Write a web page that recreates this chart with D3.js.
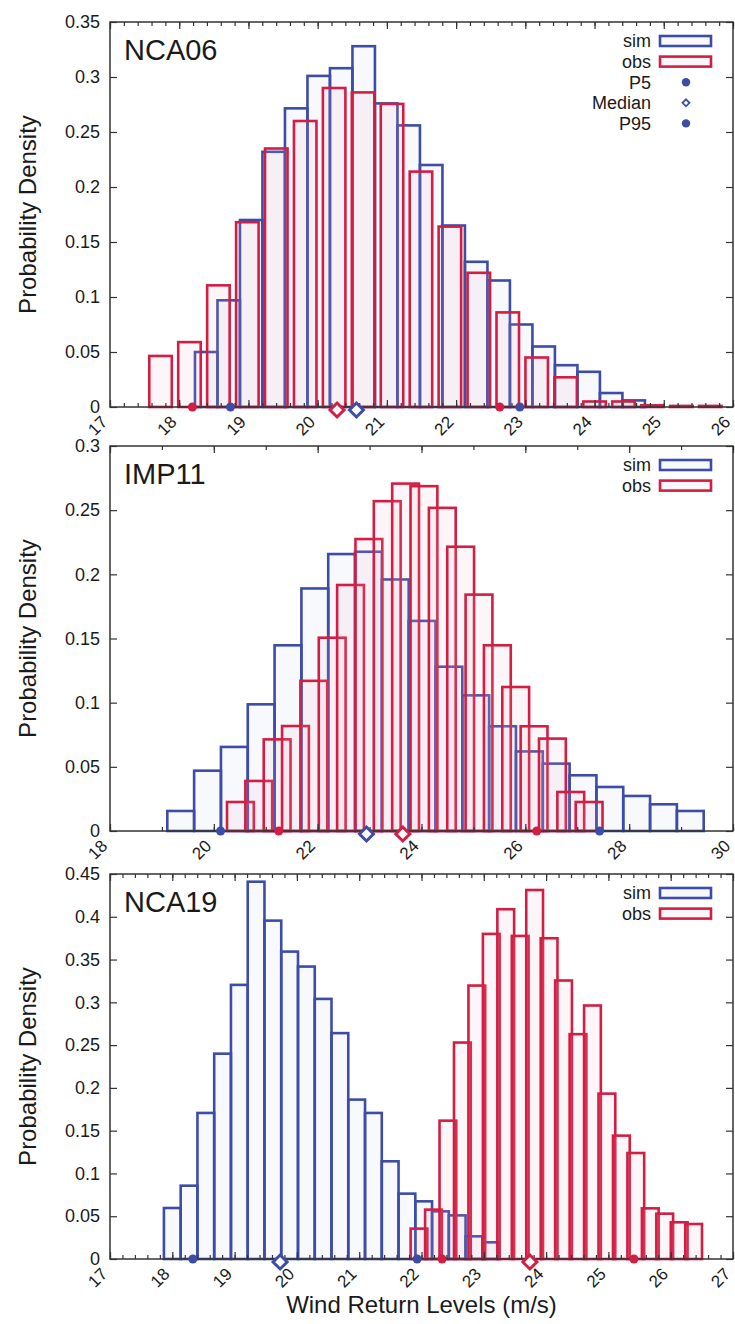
<!DOCTYPE html>
<html>
<head>
<meta charset="utf-8">
<script src="https://cdn.jsdelivr.net/npm/d3@7"></script>
<style>
body { margin: 0; background: #fff; }
svg text { font-family: "Liberation Sans", Arial, sans-serif; fill: #1a1a1a; }
</style>
</head>
<body>
<svg id="chart"></svg>
<script>
// ---- NCA06 ----
var nca06Sim = [0.05, 0.097, 0.17, 0.232, 0.2715, 0.301, 0.308, 0.328, 0.276, 0.256,
                0.22, 0.165, 0.132, 0.115, 0.075, 0.055, 0.038, 0.032, 0.0127, 0.006];
var nca06Obs = [0.0464, 0.059, 0.1106, 0.168, 0.235, 0.26, 0.29, 0.286, 0.2755, 0.214,
                0.164, 0.122, 0.086, 0.045, 0.027, 0.005, 0.005, 0.0015, 0.001, 0.001];
var nca06Bins = { simFirst: 18.39, simStep: 0.325, obsFirst: 17.73, obsStep: 0.418, box: 0.325 };
var nca06SimStats = [18.74, 20.56, 22.92];   // P5, median, P95
var nca06ObsStats = [18.19, 20.28, 22.63];
var nca06XTicks = [17, 18, 19, 20, 21, 22, 23, 24, 25, 26];
var nca06YTicks = [0, 0.05, 0.1, 0.15, 0.2, 0.25, 0.3, 0.35];

// ---- IMP11 ----
var imp11Sim = [0.0156, 0.047, 0.0655, 0.0987, 0.1447, 0.189, 0.2158, 0.2176, 0.196, 0.1637,
                0.128, 0.1057, 0.0816, 0.062, 0.0525, 0.0434, 0.0343, 0.0273, 0.0208, 0.0156];
var imp11Obs = [0.0226, 0.039, 0.0714, 0.0818, 0.117, 0.1506, 0.1917, 0.2275, 0.257, 0.2707,
                0.2687, 0.2518, 0.2215, 0.1842, 0.1447, 0.1122, 0.0816, 0.072, 0.0304, 0.0226];
var imp11Bins = { simFirst: 19.362, simStep: 0.5166, obsFirst: 20.512, obsStep: 0.3535, box: 0.5166 };
var imp11SimStats = [20.13, 22.94, 27.43];
var imp11ObsStats = [21.25, 23.64, 26.22];
var imp11XTicks = [18, 20, 22, 24, 26, 28, 30];
var imp11YTicks = [0, 0.05, 0.1, 0.15, 0.2, 0.25, 0.3];

// ---- NCA19 ----
var nca19Sim = [0.0596, 0.0857, 0.1707, 0.24, 0.3204, 0.441, 0.3955, 0.3593, 0.3418, 0.304,
                0.264, 0.1863, 0.1707, 0.1142, 0.0764, 0.0674, 0.0557, 0.051, 0.0265, 0.0195];
var nca19Obs = [0.0355, 0.0577, 0.1617, 0.253, 0.3196, 0.38, 0.4088, 0.3776, 0.4313, 0.3749,
                0.3255, 0.2628, 0.2963, 0.1933, 0.1442, 0.1239, 0.0592, 0.053, 0.0429, 0.0409];
var nca19Bins = { simFirst: 18.0, simStep: 0.269, obsFirst: 21.96, obsStep: 0.232, box: 0.269 };
var nca19SimStats = [18.33, 19.73, 21.93];
var nca19ObsStats = [22.33, 23.74, 25.41];
var nca19XTicks = [17, 18, 19, 20, 21, 22, 23, 24, 25, 26, 27];
var nca19YTicks = [0, 0.05, 0.1, 0.15, 0.2, 0.25, 0.3, 0.35, 0.4, 0.45];

var legendNames = ["sim", "obs", "P5", "Median", "P95"];

var simColour = "#3d4ca6", obsColour = "#d31d43";
var simFill = "#c9cdec", obsFill = "#f0b9c8";

var width = 735, height = 1324;
var left = 110, right = 733;

var svg = d3.select("#chart").attr("width", width).attr("height", height);

var panels = [
  { name: "NCA06", sim: nca06Sim, obs: nca06Obs, bins: nca06Bins, simStats: nca06SimStats, obsStats: nca06ObsStats,
    xTicks: nca06XTicks, yTicks: nca06YTicks, minor: 0.2, top: 22, bottom: 407, legendRows: 5 },
  { name: "IMP11", sim: imp11Sim, obs: imp11Obs, bins: imp11Bins, simStats: imp11SimStats, obsStats: imp11ObsStats,
    xTicks: imp11XTicks, yTicks: imp11YTicks, minor: 1, top: 446, bottom: 831, legendRows: 2 },
  { name: "NCA19", sim: nca19Sim, obs: nca19Obs, bins: nca19Bins, simStats: nca19SimStats, obsStats: nca19ObsStats,
    xTicks: nca19XTicks, yTicks: nca19YTicks, minor: 0.2, top: 874, bottom: 1259, legendRows: 2 }
];

function diamond(s) {
  return "M0," + (-s) + "L" + s + ",0L0," + s + "L" + (-s) + ",0Z";
}

function styleAxis(g) {
  g.select(".domain").remove();
  g.selectAll(".tick line").attr("stroke", "#333").attr("stroke-width", 1.2);
  g.selectAll("text").style("font-size", "18px").attr("fill", "#1a1a1a");
}

panels.forEach(function(p) {
  var xt = p.xTicks, yt = p.yTicks;
  var x = d3.scaleLinear().domain([xt[0], xt[xt.length - 1]]).range([left, right]);
  var y = d3.scaleLinear().domain([0, yt[yt.length - 1]]).range([p.bottom, p.top]);
  var g = svg.append("g");

  function drawBars(values, first, step, colour, fill) {
    g.append("g").selectAll("rect")
      .data(values)
      .enter().append("rect")
      .attr("x", function(d, i) { return x(first + i * step - p.bins.box / 2); })
      .attr("width", function(d, i) { return x(first + i * step + p.bins.box / 2) - x(first + i * step - p.bins.box / 2); })
      .attr("y", function(d) { return y(d); })
      .attr("height", function(d) { return y(0) - y(d); })
      .attr("fill", fill)
      .attr("fill-opacity", 0.12)
      .attr("stroke", colour)
      .attr("stroke-width", 2.6);
  }
  drawBars(p.sim, p.bins.simFirst, p.bins.simStep, simColour, simFill);
  drawBars(p.obs, p.bins.obsFirst, p.bins.obsStep, obsColour, obsFill);

  // minor x ticks (top and bottom)
  var minorTicks = d3.range(xt[0], xt[xt.length - 1] + 1e-9, p.minor);
  g.append("g").attr("transform", "translate(0," + p.bottom + ")")
    .call(d3.axisBottom(x).tickValues(minorTicks).tickSize(-4).tickFormat(""))
    .call(styleAxis);
  g.append("g").attr("transform", "translate(0," + p.top + ")")
    .call(d3.axisTop(x).tickValues(minorTicks).tickSize(-4).tickFormat(""))
    .call(styleAxis);

  // major x ticks
  var bx = g.append("g").attr("transform", "translate(0," + p.bottom + ")")
    .call(d3.axisBottom(x).tickValues(xt).tickSize(-7).tickFormat(d3.format("d")))
    .call(styleAxis);
  bx.selectAll("text")
    .attr("x", null).attr("y", null).attr("dy", null)
    .attr("text-anchor", "end")
    .style("font-size", "17px")
    .attr("transform", "translate(-2,16) rotate(-45)");
  g.append("g").attr("transform", "translate(0," + p.top + ")")
    .call(d3.axisTop(x).tickValues(xt).tickSize(-7).tickFormat(""))
    .call(styleAxis);

  // y ticks
  g.append("g").attr("transform", "translate(" + left + ",0)")
    .call(d3.axisLeft(y).tickValues(yt).tickSize(-7).tickPadding(10)
      .tickFormat(function(d) { return String(+d.toFixed(2)); }))
    .call(styleAxis);
  g.append("g").attr("transform", "translate(" + right + ",0)")
    .call(d3.axisRight(y).tickValues(yt).tickSize(-7).tickFormat(""))
    .call(styleAxis);

  // frame
  g.append("rect")
    .attr("x", left).attr("y", p.top)
    .attr("width", right - left).attr("height", p.bottom - p.top)
    .attr("fill", "none").attr("stroke", "#333").attr("stroke-width", 1.5);

  // P5 / median / P95 markers
  [[p.simStats, simColour], [p.obsStats, obsColour]].forEach(function(s) {
    var st = s[0], c = s[1];
    [st[0], st[2]].forEach(function(v) {
      g.append("circle").attr("cx", x(v)).attr("cy", p.bottom).attr("r", 4.5).attr("fill", c);
    });
    g.append("path").attr("d", diamond(7))
      .attr("transform", "translate(" + x(st[1]) + "," + (p.bottom + 3) + ")")
      .attr("fill", "#fff").attr("stroke", c).attr("stroke-width", 3);
  });

  // panel name
  g.append("text").attr("x", 124).attr("y", p.top + 38)
    .style("font-size", "29px").text(p.name);

  // y title
  g.append("text")
    .attr("transform", "translate(36," + (p.top + p.bottom) / 2 + ") rotate(-90)")
    .attr("text-anchor", "middle")
    .style("font-size", "24px")
    .text("Probability Density");

  // legend
  var rowH = 20.6;
  for (var i = 0; i < p.legendRows; i++) {
    var cy = p.top + 19 + i * rowH;
    g.append("text").attr("x", 651).attr("y", cy).attr("dy", "0.35em")
      .attr("text-anchor", "end").style("font-size", "18px").text(legendNames[i]);
    if (i < 2) {
      g.append("rect").attr("x", 660).attr("y", cy - 5).attr("width", 51).attr("height", 10)
        .attr("fill", i == 0 ? simFill : obsFill).attr("fill-opacity", 0.12)
        .attr("stroke", i == 0 ? simColour : obsColour).attr("stroke-width", 2.6);
    } else if (i == 3) {
      g.append("path").attr("d", diamond(3.5)).attr("transform", "translate(686," + cy + ")")
        .attr("fill", "#fff").attr("stroke", simColour).attr("stroke-width", 1.8);
    } else {
      g.append("circle").attr("cx", 686).attr("cy", cy).attr("r", 4.2).attr("fill", simColour);
    }
  }
});

svg.append("text")
  .attr("x", (left + right) / 2).attr("y", 1313)
  .attr("text-anchor", "middle")
  .style("font-size", "24px")
  .text("Wind Return Levels (m/s)");
</script>
</body>
</html>
